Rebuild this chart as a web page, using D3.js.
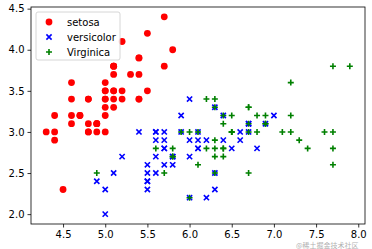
<!DOCTYPE html>
<html><head><meta charset="utf-8">
<script src="https://cdn.jsdelivr.net/npm/d3@7"></script>
<style>body{margin:0;background:#fff}svg{display:block;font-family:"DejaVu Sans",sans-serif}</style>
</head><body><svg id="c" width="372" height="249"></svg>
<script>
const setosa=[[5.1,3.5],[4.9,3.0],[4.7,3.2],[4.6,3.1],[5.0,3.6],[5.4,3.9],[4.6,3.4],[5.0,3.4],[4.4,2.9],[4.9,3.1],[5.4,3.7],[4.8,3.4],[4.8,3.0],[4.3,3.0],[5.8,4.0],[5.7,4.4],[5.4,3.9],[5.1,3.5],[5.7,3.8],[5.1,3.8],[5.4,3.4],[5.1,3.7],[4.6,3.6],[5.1,3.3],[4.8,3.4],[5.0,3.0],[5.0,3.4],[5.2,3.5],[5.2,3.4],[4.7,3.2],[4.8,3.1],[5.4,3.4],[5.2,4.1],[5.5,4.2],[4.9,3.1],[5.0,3.2],[5.5,3.5],[4.9,3.1],[4.4,3.0],[5.1,3.4],[5.0,3.5],[4.5,2.3],[4.4,3.2],[5.0,3.5],[5.1,3.8],[4.8,3.0],[5.1,3.8],[4.6,3.2],[5.3,3.7],[5.0,3.3]];
const versicolor=[[7.0,3.2],[6.4,3.2],[6.9,3.1],[5.5,2.3],[6.5,2.8],[5.7,2.8],[6.3,3.3],[4.9,2.4],[6.6,2.9],[5.2,2.7],[5.0,2.0],[5.9,3.0],[6.0,2.2],[6.1,2.9],[5.6,2.9],[6.7,3.1],[5.6,3.0],[5.8,2.7],[6.2,2.2],[5.6,2.5],[5.9,3.2],[6.1,2.8],[6.3,2.5],[6.1,2.8],[6.4,2.9],[6.6,3.0],[6.8,2.8],[6.7,3.0],[6.0,2.9],[5.7,2.6],[5.5,2.4],[5.5,2.4],[5.8,2.7],[6.0,2.7],[5.4,3.0],[6.0,3.4],[6.7,3.1],[6.3,2.3],[5.6,3.0],[5.5,2.5],[5.5,2.6],[6.1,3.0],[5.8,2.6],[5.0,2.3],[5.6,2.7],[5.7,3.0],[5.7,2.9],[6.2,2.9],[5.1,2.5],[5.7,2.8]];
const virginica=[[6.3,3.3],[5.8,2.7],[7.1,3.0],[6.3,2.9],[6.5,3.0],[7.6,3.0],[4.9,2.5],[7.3,2.9],[6.7,2.5],[7.2,3.6],[6.5,3.2],[6.4,2.7],[6.8,3.0],[5.7,2.5],[5.8,2.8],[6.4,3.2],[6.5,3.0],[7.7,3.8],[7.7,2.6],[6.0,2.2],[6.9,3.2],[5.6,2.8],[7.7,2.8],[6.3,2.7],[6.7,3.3],[7.2,3.2],[6.2,2.8],[6.1,3.0],[6.4,2.8],[7.2,3.0],[7.4,2.8],[7.9,3.8],[6.4,2.8],[6.3,2.8],[6.1,2.6],[7.7,3.0],[6.3,3.4],[6.4,3.1],[6.0,3.0],[6.9,3.1],[6.7,3.1],[6.9,3.1],[5.8,2.7],[6.8,3.2],[6.7,3.3],[6.7,3.0],[6.3,2.5],[6.5,3.0],[6.2,3.4],[5.9,3.0]];
const seriesNames=["setosa","versicolor","Virginica"];
const xTicks=[4.5,5.0,5.5,6.0,6.5,7.0,7.5,8.0];
const yTicks=[2.0,2.5,3.0,3.5,4.0,4.5];

const svg=d3.select("#c");
const L=31,R=365,T=7,B=224;
const x=d3.scaleLinear().domain([4.12,8.08]).range([L,R]);
const y=d3.scaleLinear().domain([1.88,4.52]).range([B,T]);
const g=svg.append("g");
g.selectAll("circle.s").data(setosa).join("circle").attr("class","s")
 .attr("cx",d=>x(d[0])).attr("cy",d=>y(d[1])).attr("r",3.4).attr("fill","#ff0000");
const xs=2.6;
g.selectAll("path.v").data(versicolor).join("path").attr("class","v")
 .attr("d",d=>{const cx=x(d[0]),cy=y(d[1]);return `M${cx-xs},${cy-xs}L${cx+xs},${cy+xs}M${cx-xs},${cy+xs}L${cx+xs},${cy-xs}`;})
 .attr("stroke","#0000ff").attr("stroke-width",1.6).attr("fill","none");
const ps=3;
g.selectAll("path.g").data(virginica).join("path").attr("class","g")
 .attr("d",d=>{const cx=x(d[0]),cy=y(d[1]);return `M${cx-ps},${cy}L${cx+ps},${cy}M${cx},${cy-ps}L${cx},${cy+ps}`;})
 .attr("stroke","#008000").attr("stroke-width",1.6).attr("fill","none");

const xa=svg.append("g").attr("transform",`translate(0,${B})`).call(d3.axisBottom(x).tickValues(xTicks).tickFormat(d3.format(".1f")).tickSize(3.5).tickPadding(3));
const ya=svg.append("g").attr("transform",`translate(${L},0)`).call(d3.axisLeft(y).tickValues(yTicks).tickFormat(d3.format(".1f")).tickSize(3.5).tickPadding(3));
[xa,ya].forEach(a=>{a.select(".domain").remove();a.selectAll("text").attr("font-size",10).attr("fill","#000").attr("font-family","DejaVu Sans");a.selectAll("line").attr("stroke","#000").attr("stroke-width",0.8);});
svg.append("rect").attr("x",L).attr("y",T).attr("width",R-L).attr("height",B-T).attr("fill","none").attr("stroke","#000").attr("stroke-width",0.8);

const lg=svg.append("g");
lg.append("rect").attr("x",36).attr("y",12).attr("width",84).attr("height",48).attr("rx",2).attr("fill","#fff").attr("fill-opacity",0.8).attr("stroke","#ccc").attr("stroke-width",0.8);
const ly=[22,37,52];
lg.append("circle").attr("cx",49).attr("cy",ly[0]).attr("r",3.4).attr("fill","#ff0000");
lg.append("path").attr("d",`M${49-xs},${ly[1]-xs}L${49+xs},${ly[1]+xs}M${49-xs},${ly[1]+xs}L${49+xs},${ly[1]-xs}`).attr("stroke","#0000ff").attr("stroke-width",1.6);
lg.append("path").attr("d",`M${49-ps},${ly[2]}L${49+ps},${ly[2]}M49,${ly[2]-ps}L49,${ly[2]+ps}`).attr("stroke","#008000").attr("stroke-width",1.6);
seriesNames.forEach((n,i)=>lg.append("text").attr("x",67).attr("y",ly[i]).attr("dy","0.35em").attr("font-size",10).text(n));

svg.append("text").attr("x",296).attr("y",248).attr("font-size",7).attr("fill","#999").attr("fill-opacity",0.8)
 .attr("font-family","'Noto Sans CJK SC',sans-serif").text("@稀土掘金技术社区");
</script></body></html>
